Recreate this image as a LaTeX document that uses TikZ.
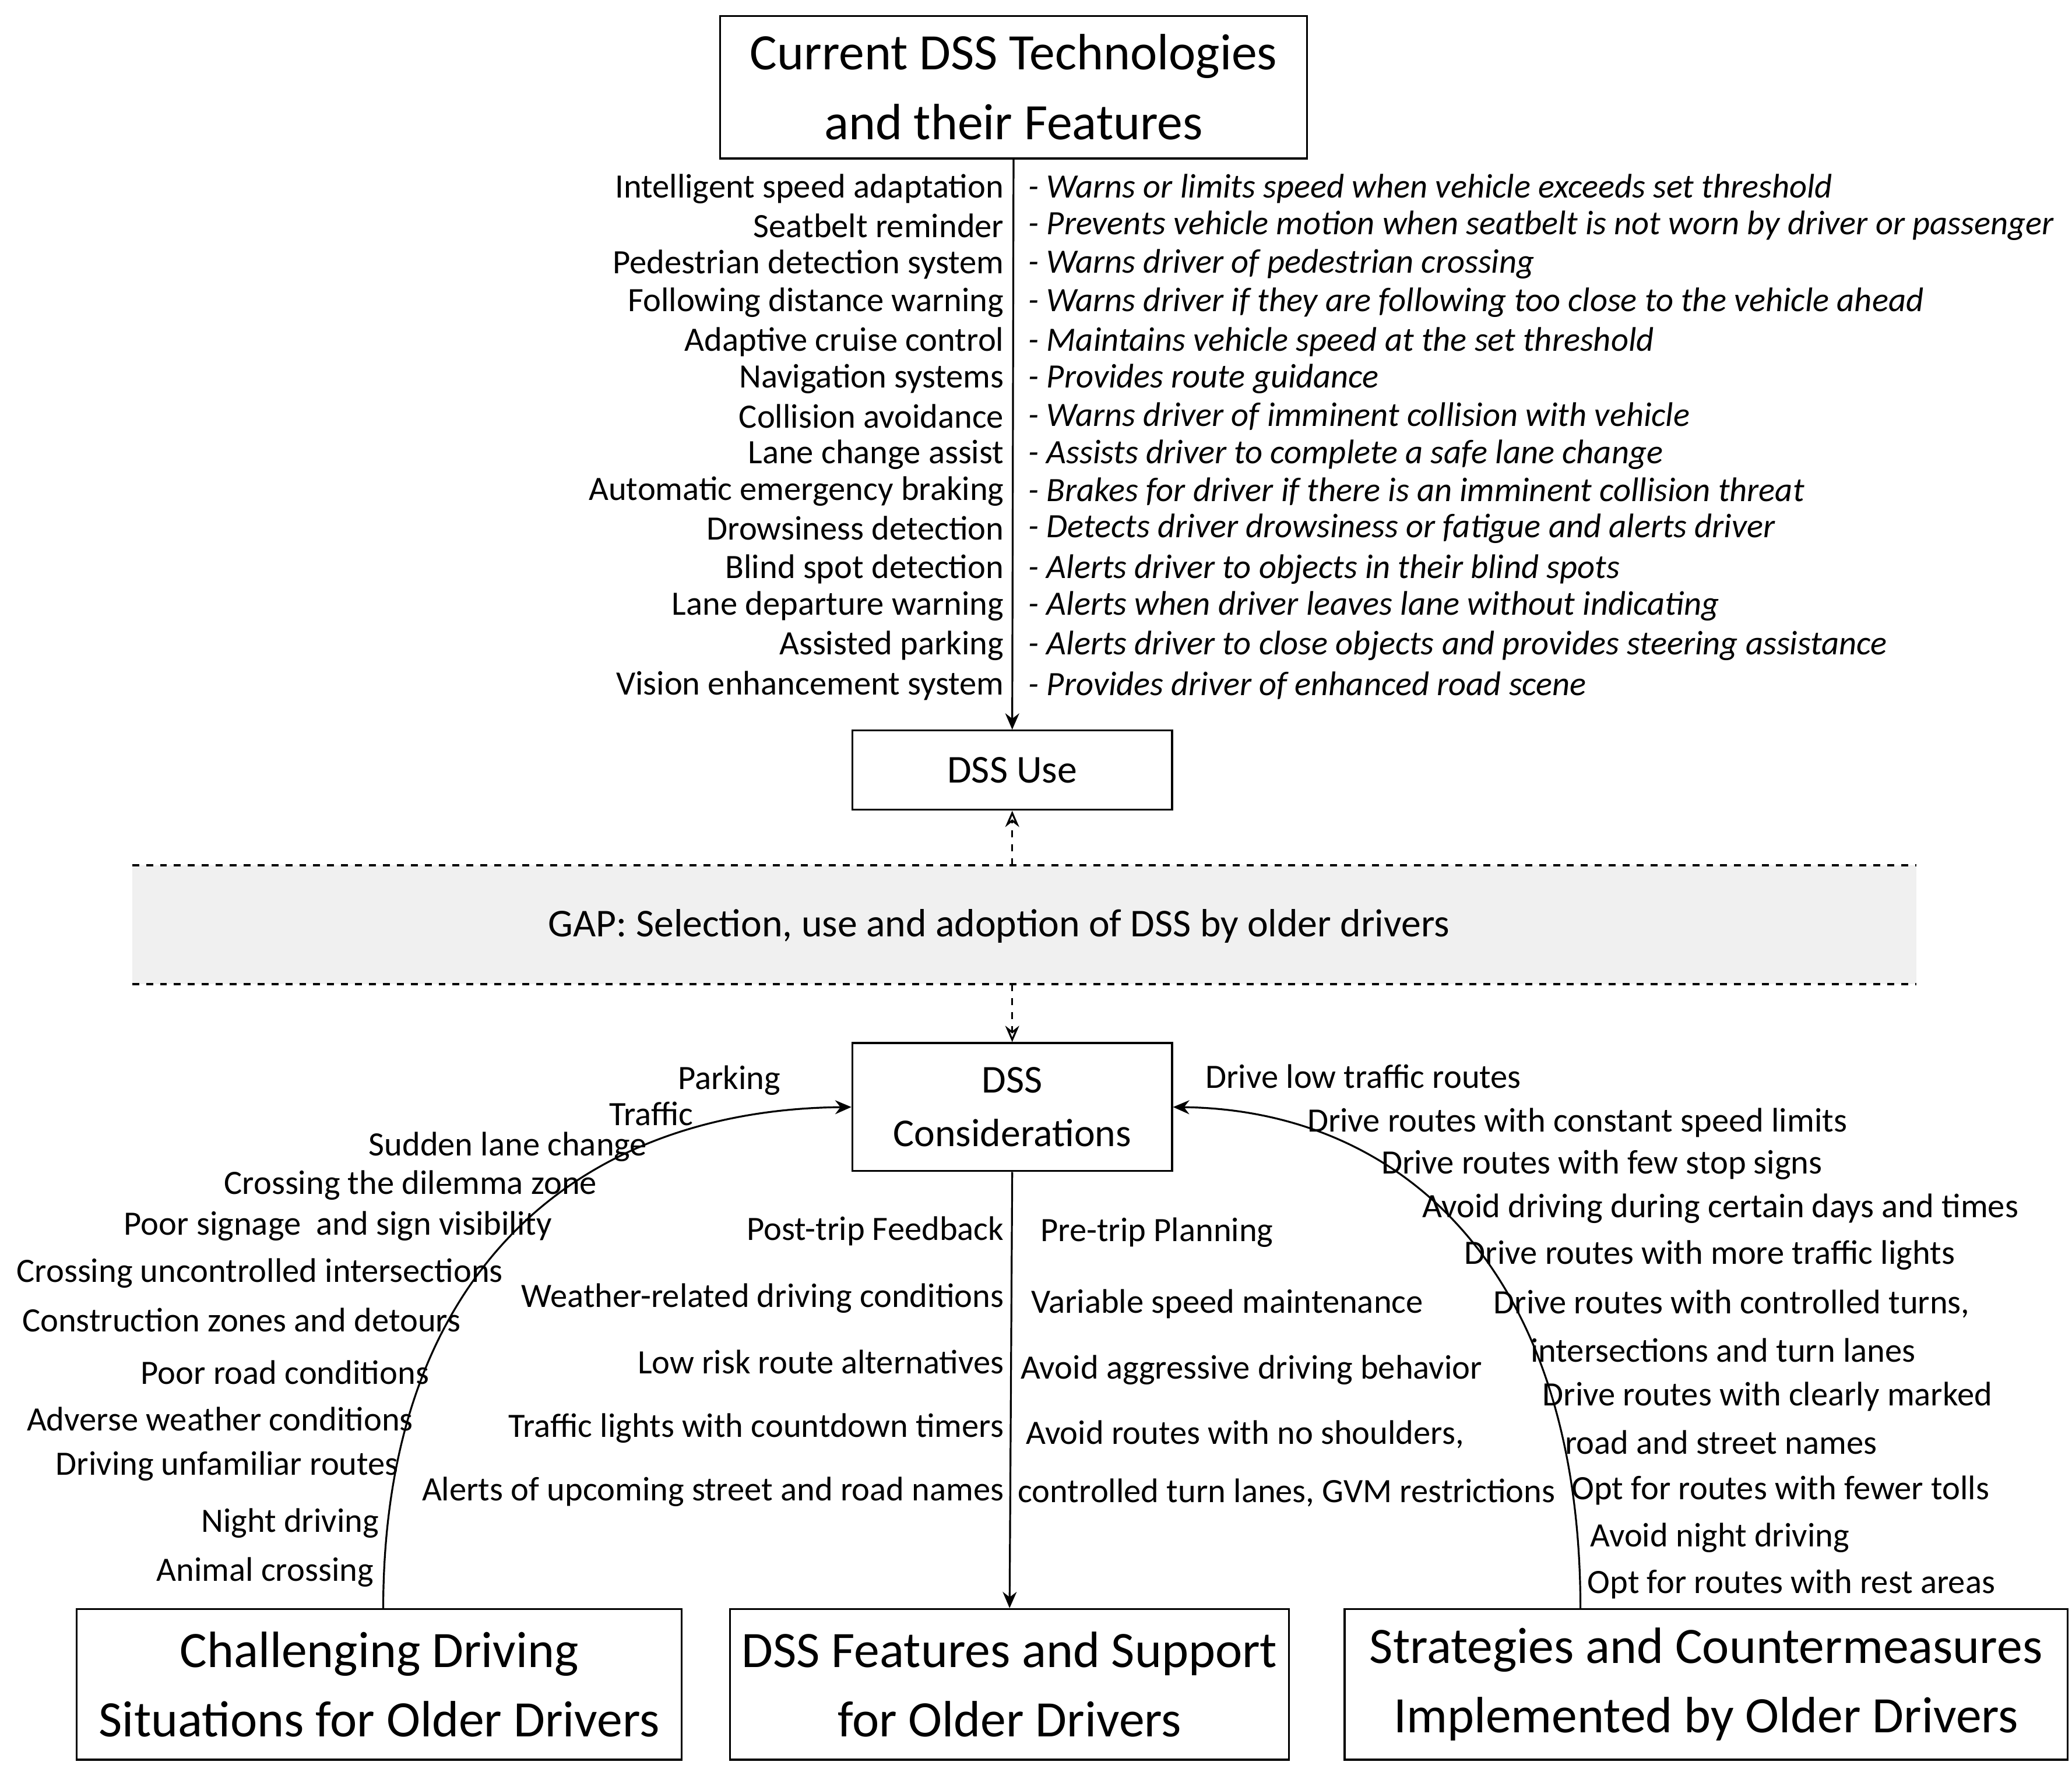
\documentclass[tikz,border=0pt]{standalone}
\usepackage{fontspec}
\setmainfont{Carlito}
\usetikzlibrary{arrows.meta}
\newcommand{\lbl}{\fontsize{14.7}{17}\selectfont}
\tikzset{
  box/.style={draw,thick,align=center,inner sep=0pt},
  lab/.style={font=\lbl,inner sep=0pt,anchor=east},
  rlab/.style={font=\lbl\itshape,inner sep=0pt,anchor=west},
  arr/.style={-{Stealth[length=7pt,width=6pt]},thick},
  darr/.style={-{Stealth[open,length=7pt,width=6pt]},thick,dashed}
}
\begin{document}
\begin{tikzpicture}[x=0.02cm,y=-0.02cm]
\useasboundingbox (0,0) rectangle (1568,1344);

% boxes
\node[box,minimum width=444*0.02cm,minimum height=108*0.02cm,font=\fontsize{22}{30}\selectfont] (tech) at (767,66) {Current DSS Technologies\\and their Features};
\node[box,minimum width=242*0.02cm,minimum height=60*0.02cm,font=\fontsize{17}{20}\selectfont] (use) at (766,583) {DSS Use};
\fill[gray!12] (100,655) rectangle (1450,745);
\draw[dashed,thick] (100,655) -- (1450,655);
\draw[dashed,thick] (100,745) -- (1450,745);
\node[font=\fontsize{17}{20}\selectfont] (gap) at (756,701) {GAP: Selection, use and adoption of DSS by older drivers};
\coordinate (gt) at (766,655);
\coordinate (gb) at (766,745);
\node[box,minimum width=242*0.02cm,minimum height=97*0.02cm,font=\fontsize{17}{23}\selectfont] (cons) at (766,838) {DSS\\Considerations};
\node[box,minimum width=458*0.02cm,minimum height=114*0.02cm,font=\fontsize{22}{30}\selectfont] (chal) at (287,1275) {Challenging Driving\\Situations for Older Drivers};
\node[box,minimum width=423*0.02cm,minimum height=114*0.02cm,font=\fontsize{22}{30}\selectfont] (feat) at (764,1275) {DSS Features and Support\\for Older Drivers};
\node[box,minimum width=547*0.02cm,minimum height=114*0.02cm,font=\fontsize{22}{30}\selectfont] (strat) at (1291,1275) {Strategies and Countermeasures\\Implemented by Older Drivers};

% connectors
\draw[arr] (tech.south) -- (use.north);
\draw[darr] (gt) -- (use.south);
\draw[darr] (gb) -- (cons.north);
\draw[arr] (cons.south) -- (feat.north);
\coordinate (ls) at (290,1218);
\coordinate (rs) at (1196,1218);
\draw[arr] (ls) .. controls (290,960) and (440,840) .. (cons.west);
\draw[arr] (rs) .. controls (1196,960) and (1060,840) .. (cons.east);

% technologies and features
\foreach \i/\y/\a/\b in {
 1/143/Intelligent speed adaptation/Warns or limits speed when vehicle exceeds set threshold,
 2/171/Seatbelt reminder/Prevents vehicle motion when seatbelt is not worn by driver or passenger,
 3/200/Pedestrian detection system/Warns driver of pedestrian crossing,
 4/229/Following distance warning/Warns driver if they are following too close to the vehicle ahead,
 5/259/Adaptive cruise control/Maintains vehicle speed at the set threshold,
 6/287/Navigation systems/Provides route guidance,
 7/315/Collision avoidance/Warns driver of imminent collision with vehicle,
 8/344/Lane change assist/Assists driver to complete a safe lane change,
 9/372/Automatic emergency braking/Brakes for driver if there is an imminent collision threat,
 10/400/Drowsiness detection/Detects driver drowsiness or fatigue and alerts driver,
 11/431/Blind spot detection/Alerts driver to objects in their blind spots,
 12/459/Lane departure warning/Alerts when driver leaves lane without indicating,
 13/489/Assisted parking/Alerts driver to close objects and provides steering assistance,
 14/519/Vision enhancement system/Provides driver of enhanced road scene}
{
  \node[lab] (tl\i) at (760,\y) {\a};
  \node[rlab] (tr\i) at (778,\y) {- \b};
}

% challenging situations
\foreach \i/\x/\y/\t in {1/591/818/Parking, 2/525/843/Traffic, 3/490/868/Sudden lane change,
 4/452/897/Crossing the dilemma zone, 5/418/928/Poor signage\ \ and sign visibility,
 6/381/964/Crossing uncontrolled intersections, 7/349/999/Construction zones and detours,
 8/325/1039/Poor road conditions, 9/313/1074/Adverse weather conditions,
 10/302/1110/Driving unfamiliar routes, 11/287/1153/Night driving, 12/283/1190/Animal crossing}
  \node[lab] (cl\i) at (\x,\y) {\t};

% features and support
\foreach \i/\y/\t in {1/932/Post-trip Feedback, 2/983/Weather-related driving conditions,
 3/1031/Low risk route alternatives, 4/1081/Traffic lights with countdown timers,
 5/1129/Alerts of upcoming street and road names}
  \node[lab] (fl\i) at (760,\y) {\t};
\foreach \i/\x/\y/\t in {1/787/933/Pre-trip Planning, 2/780/987/Variable speed maintenance,
 3/772/1037/Avoid aggressive driving behavior, 4/776/1086/{Avoid routes with no shoulders,},
 5/770/1130/{controlled turn lanes, GVM restrictions}}
  \node[lab,anchor=west] (fr\i) at (\x,\y) {\t};

% strategies
\foreach \i/\x/\y/\t in {1/912/815/Drive low traffic routes, 2/989/850/Drive routes with constant speed limits,
 3/1045/882/Drive routes with few stop signs, 4/1076/915/Avoid driving during certain days and times,
 5/1108/950/Drive routes with more traffic lights, 6/1130/987/{Drive routes with controlled turns,},
 7/1158/1022/intersections and turn lanes, 8/1167/1057/Drive routes with clearly marked,
 9/1184/1092/road and street names, 10/1189/1128/Opt for routes with fewer tolls,
 11/1203/1164/Avoid night driving, 12/1201/1199/Opt for routes with rest areas}
  \node[lab,anchor=west] (sr\i) at (\x,\y) {\t};

\end{tikzpicture}
\end{document}
